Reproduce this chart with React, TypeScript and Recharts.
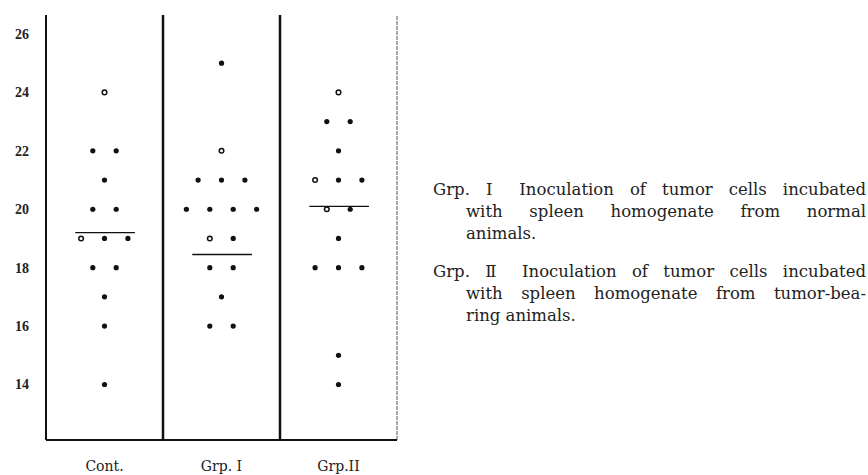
import React from "react";
import { ScatterChart, Scatter, XAxis, YAxis, ReferenceLine } from "recharts";

const groups = ["Cont.", "Grp. I", "Grp.II"];
const yTicks = [14, 16, 18, 20, 22, 24, 26];

// values, top to bottom; open = hollow marker
const contValues = [24, 22, 22, 21, 20, 20, 19, 19, 19, 18, 18, 17, 16, 14];
const contOpen = [1, 0, 0, 0, 0, 0, 1, 0, 0, 0, 0, 0, 0, 0];
const grp1Values = [25, 22, 21, 21, 21, 20, 20, 20, 20, 19, 19, 18, 18, 17, 16, 16];
const grp1Open = [0, 1, 0, 0, 0, 0, 0, 0, 0, 1, 0, 0, 0, 0, 0, 0];
const grp2Values = [24, 23, 23, 22, 21, 21, 21, 20, 20, 19, 18, 18, 18, 15, 14];
const grp2Open = [1, 0, 0, 0, 1, 0, 0, 1, 0, 0, 0, 0, 0, 0, 0];

// horizontal bar drawn in each column
const meanValues = [19.2, 18.45, 20.1];

const SPREAD = 0.2;

function buildPoints(values: number[], open: number[], gi: number) {
  const counts: Record<number, number> = {};
  values.forEach((v) => (counts[v] = (counts[v] || 0) + 1));
  const seen: Record<number, number> = {};
  return values.map((v, i) => {
    const k = seen[v] || 0;
    seen[v] = k + 1;
    const n = counts[v];
    return { x: gi + 0.5 + (k - (n - 1) / 2) * SPREAD, y: v, open: open[i] === 1 };
  });
}

const series = [
  buildPoints(contValues, contOpen, 0),
  buildPoints(grp1Values, grp1Open, 1),
  buildPoints(grp2Values, grp2Open, 2),
];

const Dot = (props: any) => {
  const { cx, cy, payload } = props;
  if (cx == null || cy == null) return null;
  return payload.open ? (
    <circle cx={cx} cy={cy} r={2.3} fill="#fff" stroke="#111" strokeWidth={1.5} />
  ) : (
    <circle cx={cx} cy={cy} r={2.6} fill="#111" />
  );
};

const serif = "'DejaVu Serif', 'Liberation Serif', serif";

const lineStyle: React.CSSProperties = {
  position: "absolute",
  height: 22,
  lineHeight: "22px",
  fontSize: 16.5,
  fontFamily: serif,
  color: "#222",
};

function TextLine({ text, left, top, justify }: { text: string; left: number; top: number; justify?: boolean }) {
  return (
    <div
      style={{
        ...lineStyle,
        left,
        top,
        width: 866 - left,
        whiteSpace: justify ? "normal" : "nowrap",
        textAlign: justify ? "justify" : "left",
        textAlignLast: justify ? "justify" : "left",
      }}
    >
      {text}
    </div>
  );
}

export default function App() {
  return (
    <div style={{ position: "absolute", left: 0, top: 0, width: 868, height: 475, background: "#fff" }}>
      <ScatterChart width={420} height={475} margin={{ top: 15, right: 23, bottom: 0, left: 0 }}>
        <XAxis
          type="number"
          dataKey="x"
          domain={[0, 3]}
          ticks={[0.5, 1.5, 2.5]}
          tickFormatter={(v: number) => groups[Math.floor(v)]}
          height={35}
          axisLine={{ stroke: "#111", strokeWidth: 2 }}
          tickLine={false}
          tickSize={0}
          tickMargin={21}
          tick={{ fill: "#222", fontSize: 14, fontFamily: serif }}
        />
        <YAxis
          type="number"
          dataKey="y"
          domain={[12.1, 26.65]}
          allowDataOverflow
          ticks={yTicks}
          width={46}
          axisLine={{ stroke: "#111", strokeWidth: 2 }}
          tickLine={false}
          tickSize={0}
          tickMargin={17}
          tick={{ fill: "#222", fontSize: 14, fontWeight: 700, fontFamily: "'Liberation Serif', serif" }}
        />
        <ReferenceLine x={1} stroke="#111" strokeWidth={2.5} />
        <ReferenceLine x={2} stroke="#111" strokeWidth={2.5} />
        <ReferenceLine x={3} stroke="#555" strokeWidth={1} strokeDasharray="4 1" />
        {meanValues.map((m, i) => (
          <ReferenceLine
            key={i}
            segment={[
              { x: i + 0.25, y: m },
              { x: i + 0.76, y: m },
            ]}
            stroke="#111"
            strokeWidth={1.3}
          />
        ))}
        {series.map((pts, i) => (
          <Scatter key={i} data={pts} shape={<Dot />} isAnimationActive={false} />
        ))}
      </ScatterChart>
      <TextLine text="Grp. Ⅰ  Inoculation of tumor cells incubated" left={433} top={179} justify />
      <TextLine text="with spleen homogenate from normal" left={466} top={201} justify />
      <TextLine text="animals." left={466} top={223} />
      <TextLine text="Grp. Ⅱ  Inoculation of tumor cells incubated" left={433} top={261} justify />
      <TextLine text="with spleen homogenate from tumor-bea-" left={466} top={283} justify />
      <TextLine text="ring animals." left={466} top={305} />
    </div>
  );
}
